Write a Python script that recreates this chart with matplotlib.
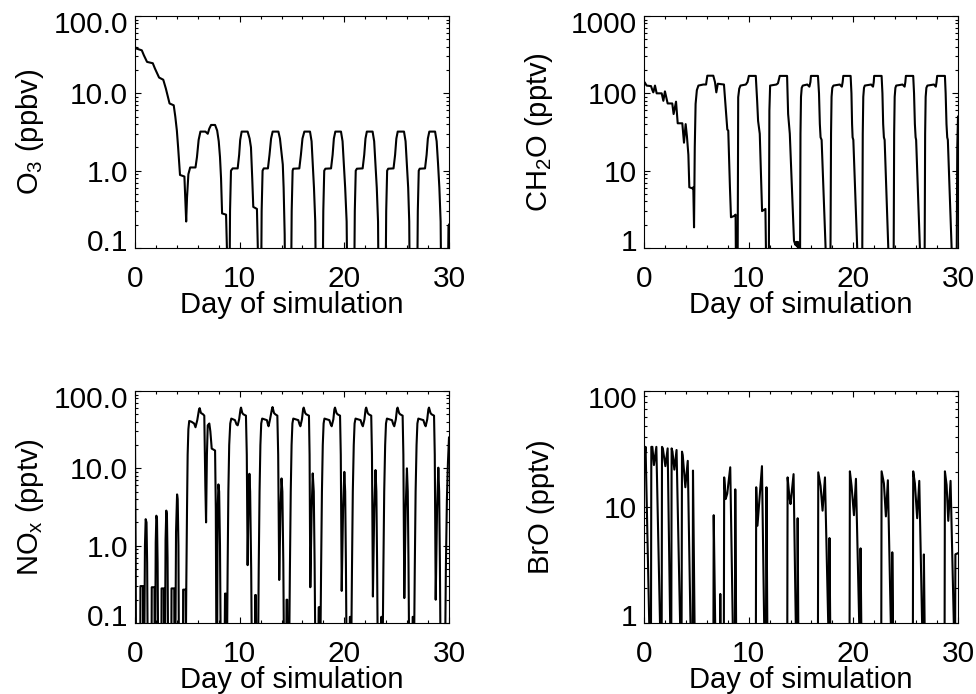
import numpy as np
import matplotlib
matplotlib.use("Agg")
import matplotlib.pyplot as plt
from matplotlib.ticker import MultipleLocator, LogLocator, NullFormatter
from matplotlib.transforms import ScaledTranslation

plt.rcParams["font.family"] = ["Liberation Sans", "DejaVu Sans"]
plt.rcParams["mathtext.fontset"] = "custom"
plt.rcParams["mathtext.rm"] = "Liberation Sans"
plt.rcParams["mathtext.it"] = "Liberation Sans:italic"

# --- Data ---
o3_day = [0.0, 0.12, 0.65, 0.85, 1.15, 1.7, 1.9, 2.3, 2.7, 2.95, 3.3, 3.7, 3.85, 4.0, 4.12, 4.3,
          4.72, 4.8, 4.89, 4.97, 5.1, 5.27, 5.78, 5.92, 6.08, 6.25, 6.73, 6.95, 7.1, 7.27, 7.65,
          7.85, 8.0, 8.12, 8.22, 8.32, 8.7, 8.8, 8.85,
          9.02, 9.08, 9.17, 9.33, 9.81, 9.95, 10.05, 10.19, 10.76, 10.95, 11.08, 11.2, 11.3, 11.65, 11.75, 11.82,
          12.04, 12.1, 12.19, 12.3, 12.7, 12.85, 13.0, 13.15, 13.7, 13.85, 14.0, 14.12, 14.2, 14.3, 14.35,
          14.9, 14.97, 15.06, 15.12, 15.7, 15.85, 16.0, 16.18, 16.72, 16.87, 16.98, 17.1, 17.22, 17.3,
          17.92, 17.99, 18.08, 18.19, 18.73, 18.88, 19.0, 19.14, 19.68, 19.83, 19.95, 20.08, 20.22, 20.3,
          20.93, 21.0, 21.09, 21.2, 21.75, 21.9, 22.02, 22.15, 22.7, 22.85, 22.97, 23.1, 23.22, 23.28,
          23.93, 24.0, 24.09, 24.19, 24.7, 24.85, 24.97, 25.1, 25.7, 25.85, 25.97, 26.1, 26.2, 26.26,
          26.95, 27.02, 27.11, 27.2, 27.71, 27.86, 27.98, 28.12, 28.67, 28.82, 28.95, 29.08, 29.2, 29.27,
          29.88, 29.95, 30.0]
o3_ppbv = [40, 38, 36, 31, 25.5, 24.5, 21, 16, 15, 11.5, 7.4, 7.0, 5.0, 3.3, 2.0, 0.88,
           0.84, 0.45, 0.22, 0.45, 0.9, 1.1, 1.1, 1.5, 2.5, 3.2, 3.2, 3.0, 3.5, 3.9, 3.9,
           3.3, 2.4, 1.5, 0.8, 0.28, 0.27, 0.08, 0.02,
           0.02, 0.3, 1.0, 1.07, 1.07, 1.6, 2.5, 3.2, 3.2, 2.6, 2.0, 0.8, 0.34, 0.32, 0.08, 0.02,
           0.02, 0.3, 1.0, 1.07, 1.07, 1.6, 2.6, 3.2, 3.2, 2.6, 1.7, 1.2, 0.6, 0.15, 0.02,
           0.02, 0.3, 1.0, 1.06, 1.07, 1.6, 2.6, 3.2, 3.2, 2.4, 1.25, 0.6, 0.22, 0.02,
           0.02, 0.3, 1.0, 1.06, 1.07, 1.6, 2.6, 3.2, 3.2, 2.4, 1.25, 0.6, 0.22, 0.02,
           0.02, 0.3, 1.0, 1.06, 1.07, 1.6, 2.6, 3.2, 3.2, 2.4, 1.25, 0.6, 0.22, 0.02,
           0.02, 0.3, 1.0, 1.06, 1.07, 1.6, 2.6, 3.2, 3.2, 2.4, 1.25, 0.6, 0.22, 0.02,
           0.02, 0.3, 1.0, 1.06, 1.07, 1.6, 2.6, 3.2, 3.2, 2.4, 1.25, 0.6, 0.22, 0.02,
           0.02, 0.19, 0.2]

ch2o_day = [0.0, 0.06, 0.25, 0.67, 0.8, 0.89, 1.05, 1.21, 1.69, 1.85, 2.0, 2.26, 2.7, 2.83, 3.06,
            3.22, 3.66, 3.82, 3.98, 4.1, 4.24, 4.33, 4.62, 4.71, 4.78, 4.85, 4.93, 5.05, 5.2, 5.67,
            5.93, 6.05, 6.62, 6.78, 6.91, 7.05, 7.64, 7.8, 7.96, 8.05, 8.21, 8.31, 8.63, 8.75, 8.8,
            8.94, 9.0, 9.1, 9.22, 9.73, 9.89, 10.02, 10.68, 10.81, 10.9, 11.06, 11.28, 11.6, 11.7,
            11.92, 11.98, 12.05, 12.65, 12.8, 12.97, 13.67, 13.77, 13.93, 14.33, 14.46, 14.55, 14.6, 14.71, 14.8,
            14.9, 14.95, 15.0, 15.07, 15.17, 15.6, 15.8, 15.9, 15.95, 16.62, 16.72, 16.8, 16.87, 16.97, 17.35, 17.4,
            17.8, 17.87, 17.92, 17.99, 18.1, 18.7, 18.9, 18.98, 19.04, 19.74, 19.82, 19.88, 19.93, 20.0, 20.37, 20.42,
            20.84, 20.9, 20.95, 21.02, 21.1, 21.7, 21.88, 21.95, 21.99, 22.7, 22.78, 22.85, 22.92, 22.99, 23.34, 23.39,
            23.84, 23.9, 23.95, 24.02, 24.1, 24.7, 24.9, 24.97, 25.02, 25.72, 25.8, 25.88, 25.95, 26.0, 26.36, 26.41,
            26.8, 26.86, 26.91, 26.98, 27.08, 27.7, 27.88, 27.95, 28.01, 28.75, 28.82, 28.9, 28.97, 29.03, 29.39, 29.44,
            29.86, 29.93, 30.0]
ch2o_pptv = [140, 139, 126, 124, 110, 103, 126, 100, 100, 80, 106, 74, 74, 54, 78,
             41, 41, 23, 40, 28, 16, 6.1, 5.9, 6.1, 1.85, 20, 73, 110, 126, 130,
             130, 169, 169, 140, 103, 133, 130, 66, 34, 33, 6.1, 2.5, 2.6, 2.7, 0.3,
             0.3, 89, 115, 126, 130, 140, 168, 168, 80, 44, 30, 3.0, 3.2, 0.3,
             0.3, 60, 126, 130, 135, 168, 168, 54, 30, 1.24, 1.1, 1.2, 1.05, 1.2, 0.3,
             0.3, 30, 90, 118, 126, 130, 122, 140, 168, 168, 100, 40, 27, 25, 1.0, 0.3,
             0.3, 30, 90, 118, 126, 130, 122, 140, 168, 168, 100, 40, 27, 25, 1.0, 0.3,
             0.3, 30, 90, 118, 126, 130, 122, 140, 168, 168, 100, 40, 27, 25, 1.0, 0.3,
             0.3, 30, 90, 118, 126, 130, 122, 140, 168, 168, 100, 40, 27, 25, 1.0, 0.3,
             0.3, 30, 90, 118, 126, 130, 122, 140, 168, 168, 100, 40, 27, 25, 1.0, 0.3,
             0.3, 20, 50]

nox_day = [0.0, 0.06, 0.1, 0.5, 0.52, 0.76, 0.78, 0.88, 0.95, 1.02, 1.1, 1.16, 1.22,
           1.58, 1.6, 1.86, 1.88, 1.92, 1.98, 2.04, 2.1, 2.16, 2.22,
           2.52, 2.54, 2.76, 2.78, 2.86, 2.92, 2.99, 3.05, 3.11, 3.17,
           3.47, 3.49, 3.75, 3.77, 3.85, 3.92, 4.02, 4.08, 4.15, 4.2,
           4.58, 4.6, 4.83, 4.86, 4.9, 4.97, 5.03, 5.1, 5.18, 5.4, 5.65, 5.78, 5.95, 6.12, 6.18,
           6.3, 6.5, 6.62, 6.72, 6.79, 6.87, 6.95, 7.1, 7.2, 7.33, 7.65, 7.72, 7.78,
           7.84, 7.9, 7.97, 8.04, 8.12, 8.2,
           8.55, 8.6, 8.68, 8.72, 8.78, 8.85, 8.92, 9.0, 9.1, 9.2, 9.55, 9.7, 9.81, 9.95, 10.08, 10.13,
           10.25, 10.35, 10.6, 10.68, 10.76, 10.85, 10.93, 11.0, 11.1, 11.17,
           11.45, 11.48, 11.55, 11.58, 11.75, 11.82, 11.9, 11.98, 12.06, 12.15, 12.6, 12.7, 12.76, 12.9,
           13.08, 13.14, 13.28, 13.4, 13.6, 13.68, 13.78, 13.9, 14.0, 14.08, 14.17, 14.24,
           14.45, 14.48, 14.55, 14.58, 14.72, 14.8, 14.88, 14.96, 15.04, 15.12, 15.6, 15.72, 15.8, 15.95,
           16.06, 16.12, 16.26, 16.36, 16.62, 16.68, 16.75, 16.88, 16.98, 17.08, 17.16, 17.24,
           17.5, 17.55, 17.62, 17.65, 17.7, 17.78, 17.86, 17.94, 18.02, 18.1, 18.57, 18.7, 18.79, 18.95,
           19.05, 19.11, 19.25, 19.35, 19.59, 19.66, 19.75, 19.88, 20.0, 20.08, 20.15, 20.22,
           20.5, 20.53, 20.58, 20.6, 20.65, 20.73, 20.81, 20.9, 20.98, 21.07, 21.55, 21.68, 21.77, 21.92,
           22.03, 22.09, 22.23, 22.33, 22.57, 22.64, 22.73, 22.86, 22.98, 23.06, 23.13, 23.2,
           23.5, 23.53, 23.58, 23.6, 23.65, 23.73, 23.81, 23.9, 23.98, 24.07, 24.55, 24.68, 24.77, 24.92,
           25.03, 25.09, 25.23, 25.33, 25.57, 25.64, 25.73, 25.86, 25.98, 26.06, 26.13, 26.2,
           26.5, 26.53, 26.58, 26.6, 26.65, 26.73, 26.81, 26.9, 26.98, 27.07, 27.55, 27.68, 27.77, 27.92,
           28.03, 28.09, 28.23, 28.33, 28.57, 28.64, 28.73, 28.86, 28.98, 29.06, 29.13, 29.2,
           29.62, 29.7, 29.8, 29.9, 30.0]
nox_pptv = [25, 1.0, 0.03, 0.03, 0.3, 0.3, 0.03, 0.03, 1.0, 2.2, 2.0, 0.6, 0.03,
            0.03, 0.29, 0.29, 0.03, 0.03, 1.1, 2.44, 2.2, 0.6, 0.03,
            0.03, 0.28, 0.28, 0.03, 0.03, 1.2, 2.84, 2.5, 0.7, 0.03,
            0.03, 0.28, 0.28, 0.03, 0.03, 1.5, 4.6, 4.0, 1.0, 0.03,
            0.03, 0.27, 0.27, 0.05, 0.3, 3, 15, 32, 41, 40, 38, 34, 42, 58, 60,
            52, 50, 48, 6, 2.0, 15, 36, 38, 30, 18, 17, 3, 0.03,
            0.03, 3, 6.2, 5, 1, 0.03,
            0.03, 0.24, 0.24, 0.03, 0.03, 0.5, 5, 20, 38, 44, 42, 37, 36, 43, 58, 61,
            52, 50, 48, 15, 0.56, 4, 8.5, 5, 0.5, 0.03,
            0.03, 0.23, 0.23, 0.03, 0.03, 0.5, 5, 20, 38, 44, 42, 37, 35, 43,
            58, 62, 52, 50, 48, 15, 0.36, 3, 7.4, 5, 0.6, 0.03,
            0.03, 0.2, 0.2, 0.03, 0.03, 0.5, 5, 20, 38, 44, 42, 37, 35, 43,
            58, 61, 52, 50, 48, 15, 0.29, 3, 8.6, 5, 0.6, 0.03,
            0.03, 0.16, 0.16, 0.03, 0.03, 0.5, 5, 20, 38, 44, 42, 37, 35, 43,
            58, 61, 52, 50, 48, 15, 0.26, 3, 9.0, 5, 0.6, 0.03,
            0.03, 0.12, 0.12, 0.03, 0.03, 0.5, 5, 20, 38, 44, 42, 37, 35, 43,
            58, 61, 52, 50, 48, 15, 0.22, 3, 9.5, 5, 0.6, 0.03,
            0.03, 0.12, 0.12, 0.03, 0.03, 0.5, 5, 20, 38, 44, 42, 37, 35, 43,
            58, 61, 52, 50, 48, 15, 0.21, 3, 10, 5, 0.6, 0.03,
            0.03, 0.12, 0.12, 0.03, 0.03, 0.5, 5, 20, 38, 44, 42, 37, 35, 43,
            58, 61, 52, 50, 48, 15, 0.2, 3, 10.2, 5, 0.6, 0.03,
            0.03, 0.5, 4, 12, 25]

bro_day = [0.0, 0.15, 0.5, 0.53, 0.66, 0.7, 0.8, 0.95, 1.18, 1.53, 1.56,
           1.68, 1.72, 1.8, 2.04, 2.26, 2.5, 2.53, 2.6, 2.64, 2.72, 2.9, 3.11, 3.45, 3.48,
           3.58, 3.63, 3.7, 3.95, 4.18, 4.44, 4.47, 4.64, 4.68, 4.83, 4.86,
           6.62, 6.66, 6.8, 6.83, 7.26, 7.29, 7.33,
           7.62, 7.66, 7.8, 7.95, 8.24, 8.48, 8.5, 8.68, 8.72, 8.8, 8.82,
           10.68, 10.72, 10.84, 11.27, 11.48, 11.5, 11.64, 11.7, 11.78, 11.8,
           13.68, 13.72, 13.9, 14.0, 14.1, 14.29, 14.5, 14.52, 14.64, 14.68, 14.74, 14.76,
           16.61, 16.65, 16.87, 17.06, 17.29, 17.6, 17.62, 17.68, 17.72, 17.79, 17.81,
           19.63, 19.67, 19.83, 20.06, 20.25, 20.56, 20.58, 20.65, 20.69, 20.76, 20.78,
           22.66, 22.7, 22.92, 23.11, 23.3, 23.58, 23.6, 23.68, 23.72, 23.79, 23.81,
           25.68, 25.72, 25.88, 26.1, 26.3, 26.57, 26.59, 26.7, 26.74, 26.81, 26.83,
           28.71, 28.75, 28.91, 29.07, 29.29, 29.6, 29.62, 29.71, 29.75, 30.0]
bro_pptv = [23, 33, 1.0, 0.3, 0.3, 33, 33, 23, 33, 1.0, 0.3,
            0.3, 33, 32, 22.5, 32, 1.0, 0.3, 0.3, 32, 30, 21, 31, 1.0, 0.3,
            0.3, 30, 28, 14.8, 25, 1.0, 0.3, 0.3, 20.6, 1.0, 0.3,
            0.3, 8.5, 1.0, 0.3, 0.3, 1.78, 0.3,
            0.3, 18, 11.7, 13, 22, 1.0, 0.3, 0.3, 14.2, 1.0, 0.3,
            0.3, 14.8, 6.9, 22.5, 1.0, 0.3, 0.3, 14.8, 1.0, 0.3,
            0.3, 18, 12, 10.6, 13, 19.2, 1.0, 0.3, 0.3, 8.0, 1.0, 0.3,
            0.3, 19.9, 15.2, 9.3, 18, 1.0, 0.3, 0.3, 5.4, 1.0, 0.3,
            0.3, 20.3, 15.2, 8.5, 17.5, 1.0, 0.3, 0.3, 4.4, 1.0, 0.3,
            0.3, 20.3, 16, 8.3, 17, 1.0, 0.3, 0.3, 4.07, 1.0, 0.3,
            0.3, 20.3, 16, 8.0, 16.8, 1.0, 0.3, 0.3, 3.9, 1.0, 0.3,
            0.3, 20.3, 15.5, 7.6, 16.8, 1.0, 0.3, 0.3, 3.9, 4.0]

panels = [
    (o3_day, o3_ppbv, "O$_3$ (ppbv)", (0.1, 100), [0.1, 1, 10, 100], ["0.1", "1.0", "10.0", "100.0"]),
    (ch2o_day, ch2o_pptv, "CH$_2$O (pptv)", (1, 1000), [1, 10, 100, 1000], ["1", "10", "100", "1000"]),
    (nox_day, nox_pptv, "NO$_\\mathrm{x}$ (pptv)", (0.1, 100), [0.1, 1, 10, 100], ["0.1", "1.0", "10.0", "100.0"]),
    (bro_day, bro_pptv, "BrO (pptv)", (1, 100), [1, 10, 100], ["1", "10", "100"]),
]

W, H = 976, 694
fig = plt.figure(figsize=(W / 100, H / 100), dpi=100)
boxes = [(135, 16), (644, 16), (135, 391), (644, 391)]

for (day, val, ylab, ylim, yt, ytl), (x0, y0) in zip(panels, boxes):
    ax = fig.add_axes([x0 / W, (H - y0 - 232) / H, 314 / W, 232 / H])
    ax.plot(day, val, color="black", lw=1.5)
    ax.set_yscale("log")
    ax.set_xlim(0, 30)
    ax.set_ylim(*ylim)
    ax.set_xticks([0, 10, 20, 30])
    ax.xaxis.set_minor_locator(MultipleLocator(2))
    ax.set_yticks(yt)
    ax.set_yticklabels(ytl)
    ax.yaxis.set_minor_locator(LogLocator(base=10, subs=np.arange(2, 10)))
    ax.yaxis.set_minor_formatter(NullFormatter())
    ax.tick_params(which="both", direction="in", top=True, right=True, labelsize=21.5, width=0.8)
    ax.tick_params(which="major", length=4.5)
    ax.tick_params(which="minor", length=2.5)
    ax.tick_params(axis="x", which="major", pad=12)
    ax.tick_params(axis="y", which="major", pad=5)
    for s in ax.spines.values():
        s.set_linewidth(0.8)
    # end labels sit a little inside the box, as in the original
    yticks = ax.yaxis.get_major_ticks()
    lab_lo, lab_hi = yticks[0].label1, yticks[-1].label1
    lab_lo.set_transform(lab_lo.get_transform() + ScaledTranslation(0, 0.08, fig.dpi_scale_trans))
    lab_hi.set_transform(lab_hi.get_transform() + ScaledTranslation(0, -0.06, fig.dpi_scale_trans))
    ax.set_xlabel("Day of simulation", fontsize=21, labelpad=-1.5)
    ax.set_ylabel(ylab, fontsize=21)
    ax.yaxis.set_label_coords(-0.285, 0.5)

fig.savefig("out.png", dpi=100)
